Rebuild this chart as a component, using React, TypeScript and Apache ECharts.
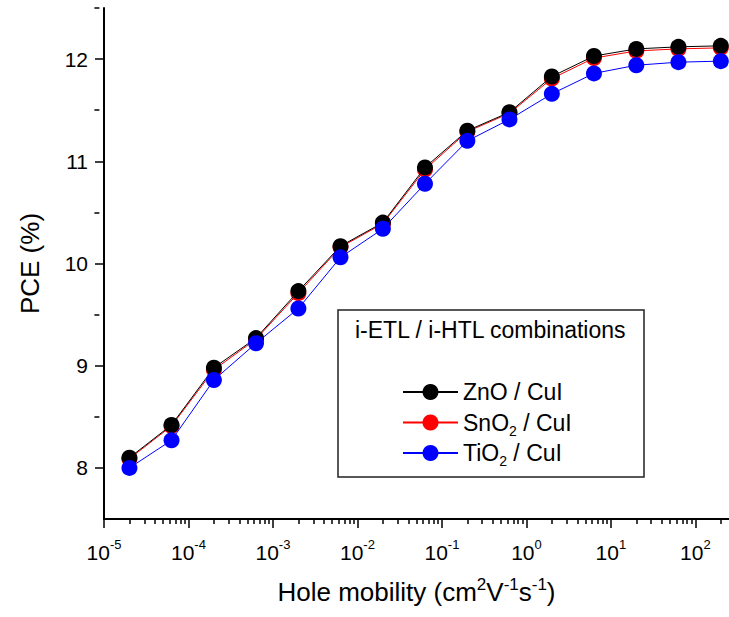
import React, { useEffect, useRef } from 'react';
import * as echarts from 'echarts';

// Hole mobility (cm^2 V^-1 s^-1)
const mobility = [2e-5, 6.3e-5, 2e-4, 6.3e-4, 2e-3, 6.3e-3, 2e-2, 6.3e-2, 0.2, 0.63, 2, 6.3, 20, 63, 200];
// PCE (%)
const pceZnO = [8.10, 8.42, 8.98, 9.27, 9.73, 10.17, 10.40, 10.94, 11.30, 11.48, 11.83, 12.03, 12.10, 12.12, 12.13];
const pceSnO2 = [8.09, 8.41, 8.96, 9.26, 9.71, 10.16, 10.39, 10.92, 11.29, 11.47, 11.81, 12.01, 12.08, 12.10, 12.11];
const pceTiO2 = [8.00, 8.27, 8.86, 9.22, 9.56, 10.06, 10.34, 10.78, 11.20, 11.41, 11.66, 11.86, 11.94, 11.97, 11.98];

const seriesNames = ['ZnO / CuI', 'SnO2 / CuI', 'TiO2 / CuI'];
const legendLabels = ['{b|ZnO / CuI}', '{b|SnO}{s|2}{b| / CuI}', '{b|TiO}{s|2}{b| / CuI}'];
const legendTitle = 'i-ETL / i-HTL combinations';

const xMin = 1e-5;
const xMax = 250;
const xMajorTicks = [1e-5, 1e-4, 1e-3, 1e-2, 1e-1, 1, 10, 100];
const xMinorMultipliers = [2, 3, 4, 5, 6, 7, 8, 9];
const xMinorTicks = xMajorTicks
  .flatMap((d) => xMinorMultipliers.map((m) => Number((m * d).toPrecision(3))))
  .filter((v) => v <= xMax);

const yMin = 7.5;
const yMax = 12.5;
const yMajorTicks = [8, 9, 10, 11, 12];
const yMinorTicks = [8.5, 9.5, 10.5, 11.5, 12.5];

const FONT = '"Liberation Sans", Arial, sans-serif';

export default function App() {
  const ref = useRef<HTMLDivElement>(null);

  useEffect(() => {
    if (!ref.current) return;
    const chart = echarts.init(ref.current, null, { renderer: 'svg' });

    const gridLeft = 104;
    const gridTop = 8;
    const gridBottom = 98;
    const gridRight = -4.6;
    const gridWidth = 729 - gridLeft - gridRight;
    const gridHeight = 617 - gridTop - gridBottom;

    const colors = ['#000000', '#ff0000', '#0000ff'];
    const dataSets = [pceZnO, pceSnO2, pceTiO2];
    const zs = [3, 2, 4];

    const legendRowCenters = [392, 422.5, 453];

    const option: any = {
      animation: false,
      backgroundColor: '#ffffff',
      textStyle: { fontFamily: FONT },
      grid: { left: gridLeft, top: gridTop, right: gridRight, bottom: gridBottom, containLabel: false },
      xAxis: [
        {
          type: 'log',
          logBase: 10,
          min: xMin,
          max: xMax,
          position: 'bottom',
          axisLine: { show: true, onZero: false, lineStyle: { color: '#000', width: 2 } },
          axisTick: { show: true, customValues: xMajorTicks, length: 9, lineStyle: { color: '#000', width: 1.5 } },
          minorTick: { show: false },
          splitLine: { show: false },
          axisLabel: {
            customValues: xMajorTicks,
            margin: 19,
            formatter: (v: number) => `{b|10}{s|${Math.round(Math.log10(v))}}`,
            rich: {
              b: { fontSize: 21, lineHeight: 28, fontFamily: FONT, color: '#000' },
              s: { fontSize: 13, lineHeight: 13, verticalAlign: 'top', fontFamily: FONT, color: '#000' },
            },
          },
          name: '{b|Hole mobility (cm}{s|2}{b|V}{s|-1}{b|s}{s|-1}{b|)}',
          nameLocation: 'middle',
          nameGap: 57,
          nameTextStyle: {
            rich: {
              b: { fontSize: 26, lineHeight: 31, fontFamily: FONT, color: '#000' },
              s: { fontSize: 17, lineHeight: 17, verticalAlign: 'top', fontFamily: FONT, color: '#000' },
            },
          },
        },
        {
          type: 'log',
          logBase: 10,
          min: xMin,
          max: xMax,
          position: 'top',
          offset: -gridHeight,
          axisLine: { show: false, onZero: false },
          axisTick: { show: true, inside: true, customValues: xMinorTicks, length: 5, lineStyle: { color: '#000', width: 1.5 } },
          axisLabel: { show: false },
          splitLine: { show: false },
        },
      ],
      yAxis: [
        {
          type: 'value',
          min: yMin,
          max: yMax,
          interval: 0.5,
          position: 'left',
          axisLine: { show: true, onZero: false, lineStyle: { color: '#000', width: 2 } },
          axisTick: { show: true, customValues: yMajorTicks, length: 9, lineStyle: { color: '#000', width: 1.5 } },
          splitLine: { show: false },
          axisLabel: {
            customValues: yMajorTicks,
            margin: 16,
            fontSize: 21,
            fontFamily: FONT,
            color: '#000',
          },
          name: 'PCE (%)',
          nameLocation: 'middle',
          nameGap: 61,
          nameTextStyle: { fontSize: 26, fontFamily: FONT, color: '#000' },
        },
        {
          type: 'value',
          min: yMin,
          max: yMax,
          interval: 0.5,
          position: 'right',
          offset: -gridWidth,
          axisLine: { show: false, onZero: false },
          axisTick: { show: true, inside: true, customValues: yMinorTicks, length: 5, lineStyle: { color: '#000', width: 1.5 } },
          axisLabel: { show: false },
          splitLine: { show: false },
        },
      ],
      legend: seriesNames.map((name, i) => ({
        data: [name],
        orient: 'vertical',
        left: 402,
        top: legendRowCenters[i] - 15,
        padding: 0,
        itemWidth: 55,
        itemHeight: 20,
        selectedMode: false,
        formatter: () => legendLabels[i],
        textStyle: {
          color: '#000',
          fontFamily: FONT,
          fontSize: 23,
          lineHeight: 30,
          rich: {
            b: { fontSize: 23, lineHeight: 30, fontFamily: FONT, color: '#000' },
            s: { fontSize: 14, lineHeight: 14, verticalAlign: 'bottom', fontFamily: FONT, color: '#000' },
          },
        },
      })),
      series: seriesNames.map((name, i) => ({
        name,
        type: 'line',
        xAxisIndex: 0,
        yAxisIndex: 0,
        z: zs[i],
        data: mobility.map((x, j) => [x, dataSets[i][j]]),
        symbol: 'circle',
        symbolSize: 16,
        showSymbol: true,
        clip: false,
        itemStyle: { color: colors[i] },
        lineStyle: { color: colors[i], width: 1 },
        emphasis: { disabled: true },
      })),
      graphic: [
        {
          type: 'rect',
          shape: { x: 338, y: 310, width: 306, height: 167 },
          style: { fill: 'none', stroke: '#222', lineWidth: 1.5 },
          z: 1,
        },
        {
          type: 'text',
          x: 355,
          y: 330,
          style: {
            text: legendTitle,
            fontSize: 23,
            fontFamily: FONT,
            fill: '#000',
            verticalAlign: 'middle',
            align: 'left',
          },
          z: 2,
        },
      ],
    };

    chart.setOption(option);
    return () => chart.dispose();
  }, []);

  return (
    <div
      ref={ref}
      style={{ position: 'absolute', left: 0, top: 0, width: 729, height: 617, background: '#fff' }}
    />
  );
}
